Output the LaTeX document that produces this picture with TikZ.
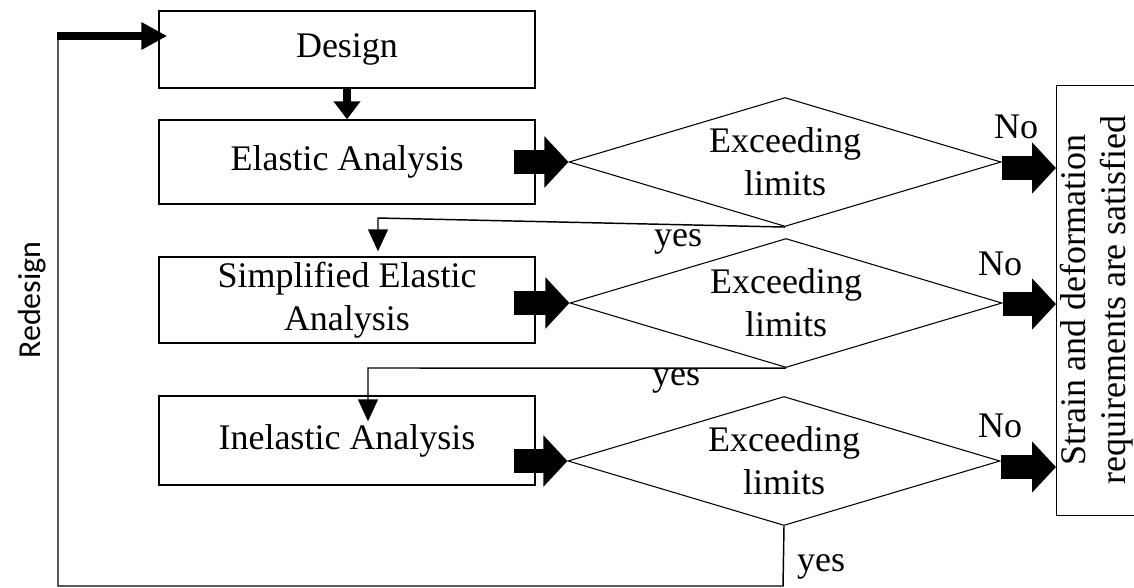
\documentclass[tikz,border=0pt]{standalone}
\usepackage{fontspec}
\setmainfont{Liberation Serif}
\newfontfamily\redfont{Carlito}
\usetikzlibrary{shapes.geometric,arrows.meta,calc}
\begin{document}
\begin{tikzpicture}[x=0.75pt,y=-0.75pt,
  every node/.style={font=\fontsize{27}{32}\selectfont},
  box/.style={draw, line width=1.1pt, minimum width=282pt, inner sep=0pt, align=center},
  dmd/.style={draw, diamond, line width=0.8pt, aspect=3.35, inner sep=0pt,
    minimum width=324pt, minimum height=96.75pt, align=center},
  blockarrow/.style={line width=18pt, -{Triangle[length=18pt, width=37.5pt]}},
  desarrow/.style={line width=6.5pt, -{Triangle[length=13.5pt, width=19.5pt]}},
  redarrow/.style={line width=6pt, -{Triangle[length=19.5pt, width=19.5pt]}},
  yesarrow/.style={line width=1.1pt, -{Triangle[length=16.5pt, width=15pt]}},
  thinline/.style={line width=1.1pt},
  lbl/.style={inner sep=0pt}
]
\clip (0,0) rectangle (1134,587);
\fill[white] (0,0) rectangle (1134,587);

% boxes
\node[box, minimum height=57.75pt] (des) at (347,49.5) {Design};
\node[box, minimum height=63pt] (ela) at (347,162) {Elastic Analysis};
\node[box, minimum height=64.5pt] (sim) at (347,300) {Simplified Elastic\\Analysis};
\node[box, minimum height=66.75pt] (ine) at (347,440.5) {Inelastic Analysis};

% diamonds
\node[dmd] (d1) at (785,162) {Exceeding\\limits};
\node[dmd] (d2) at (786,303) {Exceeding\\limits};
\node[dmd] (d3) at (784,461) {Exceeding\\limits};

% result box
\node[draw, line width=1.1pt, minimum width=90pt, minimum height=322.5pt, inner sep=0pt, anchor=north west] (res) at (1056,85) {};
\node[rotate=90, align=center, inner sep=0pt, font=\fontsize{27}{30}\selectfont] (restext) at (1097,300) {Strain and deformation\\requirements are satisfied};

% Redesign label
\node[rotate=90, inner sep=0pt, font=\redfont\fontsize{24}{28}\selectfont] (redesign) at (32,300) {Redesign};

% design -> elastic
\draw[desarrow] (des.south) -- (ela.north);

% block arrows box -> diamond
\draw[blockarrow] ($(ela.east |- d1.west)+(-22,0)$) -- (d1.west);
\draw[blockarrow] ($(sim.east |- d2.west)+(-22,0)$) -- (d2.west);
\draw[blockarrow] ($(ine.east |- d3.west)+(-22,0)$) -- (d3.west);

% No arrows
\draw[blockarrow] ($(d1.east)+(0,6)$) -- ($(res.west |- d1.east)+(0,6)$);
\draw[blockarrow] ($(d2.east)+(0,1)$) -- ($(res.west |- d2.east)+(0,1)$);
\draw[blockarrow] ($(d3.east)+(0,6)$) -- ($(res.west |- d3.east)+(0,6)$);
\node[lbl] (no1) at (1016,127) {No};
\node[lbl] (no2) at (1000,264) {No};
\node[lbl] (no3) at (1000,426) {No};

% yes arrows
\coordinate (y1) at (378,218);
\draw[yesarrow] (d1.south) -- (y1) -- ($(sim.north -| y1)+(0,-5)$);
\coordinate (y2) at (368,368);
\draw[yesarrow] (d2.south) -- (y2) -- ($(ine.north -| y2)+(0,26)$);
\node[lbl] (yes1) at (678,242) {yes};
\node[lbl] (yes2) at (676,381) {yes};
\node[lbl] (yes3) at (821,567) {yes};

% redesign loop
\coordinate (c1) at (783,586);
\coordinate (c2) at (58,586);
\coordinate (c3) at (58,36);
\draw[thinline] (d3.south) -- (c1) -- (c2) -- (c3);
\draw[redarrow] ($(c3)+(-0.7,0)$) -- ($(des.west |- c3)+(9,0)$);
\end{tikzpicture}
\end{document}
